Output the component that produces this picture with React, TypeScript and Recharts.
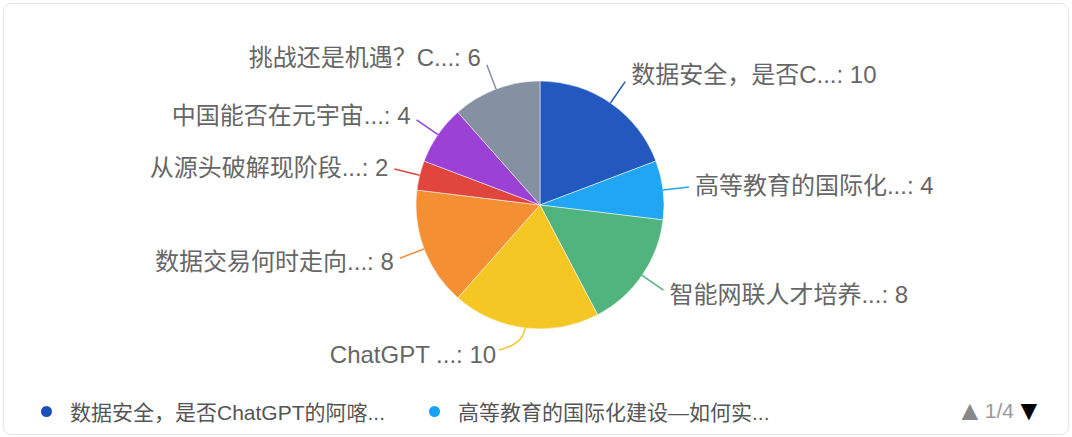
import { PieChart, Pie, Cell, Legend } from 'recharts'

const labelNames = [
  '数据安全，是否C...',
  '高等教育的国际化...',
  '智能网联人才培养...',
  'ChatGPT ...',
  '数据交易何时走向...',
  '从源头破解现阶段...',
  '中国能否在元宇宙...',
  '挑战还是机遇？C...'
]

const legendNames = [
  '数据安全，是否ChatGPT的阿喀...',
  '高等教育的国际化建设—如何实...',
  '智能网联人才培养...',
  'ChatGPT ...',
  '数据交易何时走向...',
  '从源头破解现阶段...',
  '中国能否在元宇宙...',
  '挑战还是机遇？C...'
]

const counts = [10, 4, 8, 10, 8, 2, 4, 6]

const colors = ['#2359be', '#21a6f3', '#51b47e', '#f4c724', '#f58f34', '#e0463e', '#9b41d6', '#8590a2']

const legendColors = ['#1d4fb8', '#16a2f5']

const chartData = counts.map((value, i) => ({
  name: legendNames[i],
  label: labelNames[i],
  value
}))

const FONT = '"Liberation Sans", "Noto Sans CJK SC", sans-serif'
const RAD = Math.PI / 180

const renderLabel = (props: any) => {
  const { cx, cy, midAngle, outerRadius, index } = props
  const cos = Math.cos(-midAngle * RAD)
  const sin = Math.sin(-midAngle * RAD)
  const sx = cx + outerRadius * cos
  const sy = cy + outerRadius * sin
  const color = colors[index]
  const text = `${labelNames[index]}: ${counts[index]}`

  if (Math.abs(cos) < 0.3) {
    // near the bottom/top: bend the line sideways
    const ex = cx + (outerRadius + 16) * cos
    const ey = cy + (outerRadius + 16) * sin
    const dir = cos >= 0 ? 1 : -1
    const tx = ex + dir * 24
    const ty = ey + 6
    return (
      <g>
        <path d={`M${sx},${sy} Q${ex},${ey} ${tx},${ty}`} stroke={color} strokeWidth={1.5} fill="none" />
        <text x={tx + dir * 3} y={ty + 5} textAnchor={dir > 0 ? 'start' : 'end'} dominantBaseline="central"
          fill="#666" fontSize={24} fontFamily={FONT}>
          {text}
        </text>
      </g>
    )
  }

  const ex = cx + (outerRadius + 26) * cos
  const ey = cy + (outerRadius + 26) * sin
  const right = cos >= 0
  return (
    <g>
      <path d={`M${sx},${sy} L${ex},${ey}`} stroke={color} strokeWidth={1.5} fill="none" />
      <text x={ex + (right ? 6 : -6)} y={ey + 8 * sin} textAnchor={right ? 'start' : 'end'} dominantBaseline="central"
        fill="#666" fontSize={24} fontFamily={FONT}>
        {text}
      </text>
    </g>
  )
}

const renderLegend = () => {
  const items = chartData.slice(0, 2)
  const xs = [47, 435]
  return (
    <div style={{ position: 'relative', width: 1072, height: 26, fontFamily: FONT }}>
      {items.map((item, i) => (
        <div key={i} style={{ position: 'absolute', left: xs[i] - 6, top: 0, height: 26, display: 'flex', alignItems: 'center' }}>
          <span style={{ display: 'inline-block', width: 11, height: 11, borderRadius: '50%', background: legendColors[i] }} />
          <span style={{ marginLeft: 18, fontSize: 21, color: '#555', whiteSpace: 'nowrap' }}>{item.name}</span>
        </div>
      ))}
      <div style={{ position: 'absolute', left: 956, top: 0, height: 26, display: 'flex', alignItems: 'center', fontSize: 21, whiteSpace: 'nowrap' }}>
        <span style={{ color: '#888', fontSize: 28 }}>▲</span>
        <span style={{ color: '#999', margin: '0 1px' }}>1/4</span>
        <span style={{ color: '#000', fontSize: 28 }}>▼</span>
      </div>
    </div>
  )
}

export default function App() {
  return (
    <div style={{ position: 'absolute', left: 0, top: 0, width: 1072, height: 437, background: '#fff' }}>
      <div style={{
        position: 'absolute', left: 3, top: 3, width: 1064, height: 430,
        border: '1px solid #e6e6e6', borderRadius: 8
      }} />
      <PieChart width={1072} height={437} margin={{ top: 0, right: 0, bottom: 0, left: 0 }}
        style={{ position: 'absolute', left: 0, top: 0 }}>
        <Pie
          data={chartData}
          dataKey="value"
          nameKey="name"
          cx={540}
          cy={205}
          outerRadius={124}
          startAngle={90}
          endAngle={-270}
          stroke="#fff"
          strokeWidth={0.5}
          label={renderLabel}
          labelLine={false}
          isAnimationActive={false}
        >
          {chartData.map((_, i) => (
            <Cell key={i} fill={colors[i]} />
          ))}
        </Pie>
        <Legend
          content={renderLegend}
          wrapperStyle={{ position: 'absolute', left: 0, top: 398, width: 1072, height: 26 }}
        />
      </PieChart>
    </div>
  )
}
